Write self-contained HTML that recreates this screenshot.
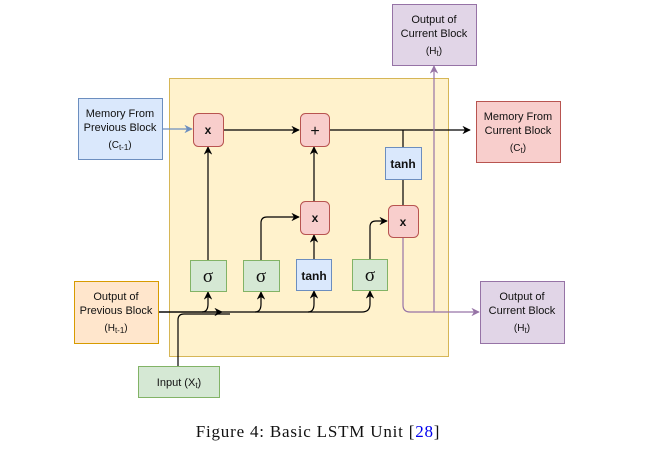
<!DOCTYPE html>
<html><head><meta charset="utf-8"><style>
body{margin:0;background:#fff}
svg{display:block}
text{font-family:"Liberation Sans",sans-serif;font-size:11px;fill:#111}
.b{font-weight:bold;font-size:12px}
.s{font-family:"Liberation Serif",serif;font-size:19px}
</style></head><body>
<svg width="654" height="472" viewBox="0 0 654 472" xmlns="http://www.w3.org/2000/svg">
<defs>
<marker id="a" viewBox="0 0 10 10" refX="9" refY="5" markerWidth="7" markerHeight="7" orient="auto"><path d="M0,0 L10,5 L0,10 L3,5z" fill="#000"/></marker>
<marker id="ab" viewBox="0 0 10 10" refX="9" refY="5" markerWidth="7" markerHeight="7" orient="auto"><path d="M0,0 L10,5 L0,10 L3,5z" fill="#6c8ebf"/></marker>
<marker id="ap" viewBox="0 0 10 10" refX="9" refY="5" markerWidth="7" markerHeight="7" orient="auto"><path d="M0,0 L10,5 L0,10 L3,5z" fill="#9673a6"/></marker>
</defs>
<rect x="169.5" y="78.5" width="279" height="278" fill="#fff2cc" stroke="#d6b656"/>
<g fill="none" stroke="#000" stroke-width="1.2">
<path d="M223 130 H299" marker-end="url(#a)"/>
<path d="M329 130 H470" marker-end="url(#a)"/>
<path d="M403 130 V147 M403 179 V205"/>
<path d="M208 260 V147" marker-end="url(#a)"/>
<path d="M314 201 V147" marker-end="url(#a)"/>
<path d="M314 259 V235" marker-end="url(#a)"/>
<path d="M261 260 V223 Q261 217 267 217 H299" marker-end="url(#a)"/>
<path d="M370 259 V227 Q370 221 376 221 H387" marker-end="url(#a)"/>
<path d="M158 312 H222" marker-end="url(#a)"/>
<path d="M158 312 H362 Q370 312 370 304 V291" marker-end="url(#a)"/>
<path d="M202 312 Q208 312 208 304 V292" marker-end="url(#a)"/>
<path d="M255 312 Q261 312 261 304 V292" marker-end="url(#a)"/>
<path d="M308 312 Q314 312 314 304 V291" marker-end="url(#a)"/>
<path d="M178 366 V320 Q178 314 184 314 H230"/>
</g>
<path d="M162 129 H192" stroke="#6c8ebf" stroke-width="1.2" fill="none" marker-end="url(#ab)"/>
<g fill="none" stroke="#9673a6" stroke-width="1.2">
<path d="M403 237 V305 Q403 312 410 312 H479" marker-end="url(#ap)"/>
<path d="M434 312 V66" marker-end="url(#ap)"/>
</g>
<rect x="78.5" y="98.5" width="84" height="61" fill="#dae8fc" stroke="#6c8ebf"/>
<text x="120" y="117" text-anchor="middle">Memory From</text>
<text x="120" y="131" text-anchor="middle">Previous Block</text>
<text x="120" y="148" text-anchor="middle" style="font-size:10px">(C<tspan style="font-size:8px" dy="2">t-1</tspan><tspan dy="-2">)</tspan></text>
<rect x="74.5" y="281.5" width="84" height="62" fill="#ffe6cc" stroke="#d79b00"/>
<text x="116" y="300" text-anchor="middle">Output of</text>
<text x="116" y="314" text-anchor="middle">Previous Block</text>
<text x="116" y="331" text-anchor="middle" style="font-size:10px">(H<tspan style="font-size:8px" dy="2">t-1</tspan><tspan dy="-2">)</tspan></text>
<rect x="138.5" y="366.5" width="81" height="31" fill="#d5e8d4" stroke="#82b366"/>
<text x="179" y="386" text-anchor="middle">Input (X<tspan style="font-size:8px" dy="2">t</tspan><tspan dy="-2">)</tspan></text>
<rect x="392.5" y="4.5" width="84" height="61" fill="#e1d5e7" stroke="#9673a6"/>
<text x="434" y="23" text-anchor="middle">Output of</text>
<text x="434" y="37" text-anchor="middle">Current Block</text>
<text x="434" y="54" text-anchor="middle" style="font-size:10px">(H<tspan style="font-size:8px" dy="2">t</tspan><tspan dy="-2">)</tspan></text>
<rect x="476.5" y="101.5" width="84" height="61" fill="#f8cecc" stroke="#b85450"/>
<text x="518" y="120" text-anchor="middle">Memory From</text>
<text x="518" y="134" text-anchor="middle">Current Block</text>
<text x="518" y="151" text-anchor="middle" style="font-size:10px">(C<tspan style="font-size:8px" dy="2">t</tspan><tspan dy="-2">)</tspan></text>
<rect x="480.5" y="281.5" width="84" height="62" fill="#e1d5e7" stroke="#9673a6"/>
<text x="522" y="300" text-anchor="middle">Output of</text>
<text x="522" y="314" text-anchor="middle">Current Block</text>
<text x="522" y="331" text-anchor="middle" style="font-size:10px">(H<tspan style="font-size:8px" dy="2">t</tspan><tspan dy="-2">)</tspan></text>
<g fill="#f8cecc" stroke="#b85450">
<rect x="193.5" y="113.5" width="30" height="33" rx="5"/>
<rect x="300.5" y="113.5" width="29" height="33" rx="5"/>
<rect x="300.5" y="201.5" width="29" height="33" rx="5"/>
<rect x="388.5" y="205.5" width="30" height="32" rx="5"/>
</g>
<text x="208" y="134" text-anchor="middle" class="b">x</text>
<text x="315" y="136" text-anchor="middle" style="font-size:16px">+</text>
<text x="315" y="222" text-anchor="middle" class="b">x</text>
<text x="403" y="226" text-anchor="middle" class="b">x</text>
<g fill="#d5e8d4" stroke="#82b366">
<rect x="190.5" y="260.5" width="36" height="31"/>
<rect x="243.5" y="260.5" width="36" height="31"/>
<rect x="352.5" y="259.5" width="35" height="31"/>
</g>
<g fill="#dae8fc" stroke="#6c8ebf">
<rect x="296.5" y="259.5" width="35" height="31"/>
<rect x="385.5" y="147.5" width="36" height="32"/>
</g>
<text x="208" y="282" text-anchor="middle" class="s">σ</text>
<text x="261" y="282" text-anchor="middle" class="s">σ</text>
<text x="370" y="281" text-anchor="middle" class="s">σ</text>
<text x="314" y="280" text-anchor="middle" class="b">tanh</text>
<text x="403" y="168" text-anchor="middle" class="b">tanh</text>
<text x="318" y="437" text-anchor="middle" style="font-family:'Liberation Serif',serif;font-size:17px;letter-spacing:0.8px">Figure 4: Basic LSTM Unit [<tspan style="fill:#0000ee">28</tspan>]</text>
</svg>
</body></html>
